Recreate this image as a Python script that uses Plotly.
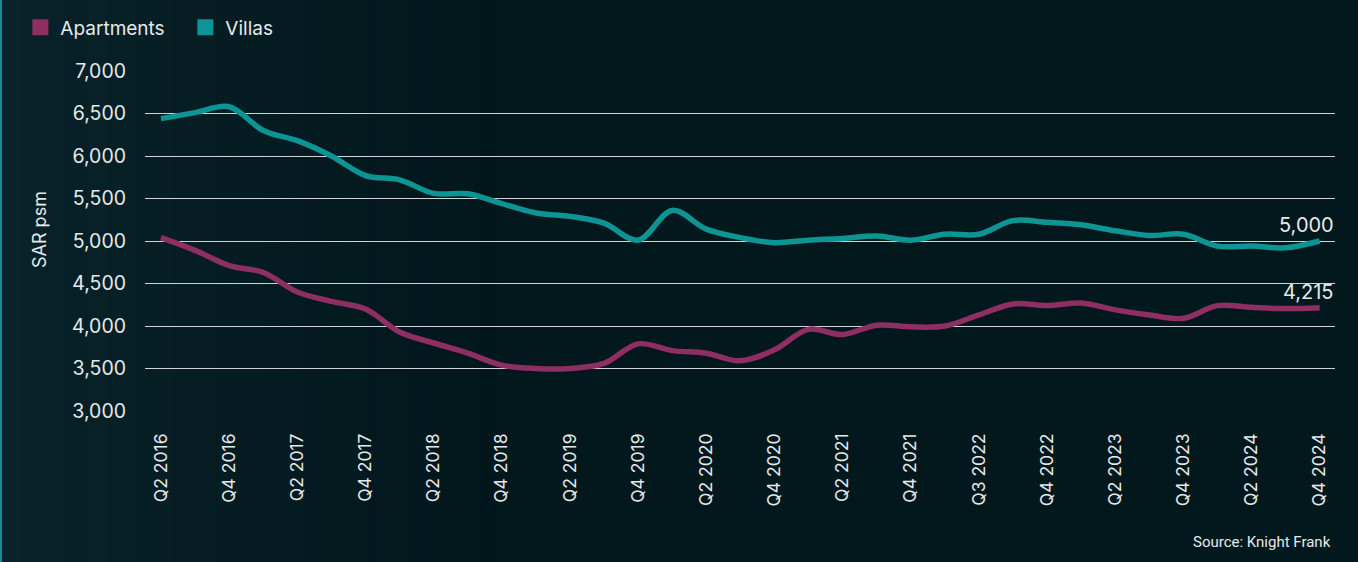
import plotly.graph_objects as go

# Quarterly average asking prices (SAR per sq m)
quarters = list(range(35))  # Q2 2016 ... Q4 2024
tick_positions = list(range(0, 35, 2))
tick_labels = ["Q2 2016", "Q4 2016", "Q2 2017", "Q4 2017", "Q2 2018", "Q4 2018",
               "Q2 2019", "Q4 2019", "Q2 2020", "Q4 2020", "Q2 2021", "Q4 2021",
               "Q3 2022", "Q4 2022", "Q2 2023", "Q4 2023", "Q2 2024", "Q4 2024"]

apartments = [5040, 4890, 4710, 4630, 4400, 4290, 4200, 3930, 3800, 3680,
              3540, 3500, 3500, 3560, 3790, 3710, 3680, 3590, 3720, 3960,
              3900, 4010, 3990, 4000, 4130, 4260, 4240, 4270, 4190, 4130,
              4090, 4240, 4220, 4205, 4215]

villas = [6440, 6510, 6580, 6300, 6180, 6000, 5770, 5720, 5560, 5555,
          5440, 5330, 5290, 5210, 5010, 5360, 5140, 5040, 4980, 5010,
          5030, 5060, 5010, 5080, 5080, 5240, 5220, 5190, 5120, 5065,
          5080, 4940, 4940, 4920, 5000]

APT_COLOR = "#8e2e62"
VILLA_COLOR = "#0d9494"
TEXT_COLOR = "#e6e9ea"
BG = "#03181d"
FONT = "Inter"

W, H = 1358, 562
L, R, T, B = 145, 23, 71, 151
PW, PH = W - L - R, H - T - B


def px_to_paper_x(px):
    return (px - L) / PW


def px_to_paper_y(py):
    return (H - B - py) / PH


fig = go.Figure()

for name, values, color in [("Apartments", apartments, APT_COLOR),
                            ("Villas", villas, VILLA_COLOR)]:
    fig.add_trace(go.Scatter(
        x=quarters, y=values, mode="lines", name=name,
        line=dict(color=color, width=5.5, shape="spline", smoothing=1.0),
        showlegend=False, hoverinfo="x+y",
    ))
    # square swatch for the legend
    fig.add_trace(go.Scatter(
        x=[None], y=[None], mode="markers", name=name,
        marker=dict(symbol="square", size=16, color=color),
        showlegend=True,
    ))

# end-of-series value labels
for values in (villas, apartments):
    fig.add_annotation(
        x=quarters[-1], y=values[-1], text=f"{values[-1]:,}",
        showarrow=False, xanchor="right", yanchor="bottom",
        xshift=16, yshift=2,
        font=dict(size=20, color=TEXT_COLOR, family=FONT),
    )

# y-axis title
fig.add_annotation(
    text="SAR psm", xref="paper", yref="paper",
    x=px_to_paper_x(39), y=px_to_paper_y(230), textangle=-90,
    xanchor="center", yanchor="middle", showarrow=False,
    font=dict(size=18, color=TEXT_COLOR, family=FONT),
)

fig.add_annotation(
    text="Source: Knight Frank", xref="paper", yref="paper",
    x=px_to_paper_x(1333), y=px_to_paper_y(542), xanchor="right",
    yanchor="middle", showarrow=False,
    font=dict(size=15, color=TEXT_COLOR, family="Roboto"),
)

# soft lighter haze on the left side of the panel
steps = 24
for i in range(steps):
    x0 = i * 520 / steps
    x1 = (i + 1) * 520 / steps
    alpha = 0.16 * (1 - i / steps) ** 1.5
    fig.add_shape(type="rect", xref="paper", yref="paper",
                  x0=px_to_paper_x(x0), x1=px_to_paper_x(x1),
                  y0=px_to_paper_y(H), y1=px_to_paper_y(0),
                  fillcolor=f"rgba(40,95,110,{alpha:.3f})",
                  line=dict(width=0), layer="below")

# thin accent line on the left edge of the panel
fig.add_shape(type="rect", xref="paper", yref="paper",
              x0=px_to_paper_x(0), x1=px_to_paper_x(2),
              y0=px_to_paper_y(H), y1=px_to_paper_y(0),
              fillcolor="#1a8a92", line=dict(width=0), layer="below")

fig.update_layout(
    width=W, height=H,
    margin=dict(l=L, r=R, t=T, b=B),
    paper_bgcolor=BG, plot_bgcolor="rgba(0,0,0,0)",
    font=dict(family=FONT, color=TEXT_COLOR),
    legend=dict(
        orientation="h", xref="container", yref="container",
        x=0.015, y=0.985, xanchor="left", yanchor="top",
        font=dict(size=19, color=TEXT_COLOR, family=FONT),
        bgcolor="rgba(0,0,0,0)", itemwidth=30, tracegroupgap=0,
        entrywidth=120, entrywidthmode="pixels",
    ),
    xaxis=dict(
        range=[-0.47, 34.45], tickmode="array",
        tickvals=tick_positions, ticktext=tick_labels,
        tickangle=-90, showgrid=False, zeroline=False, showline=False,
        ticks="", ticklabelstandoff=18,
        tickfont=dict(size=17.5, color=TEXT_COLOR, family=FONT),
    ),
    yaxis=dict(
        range=[3000, 7000], tickvals=list(range(3000, 7001, 500)),
        tickformat=",", showgrid=True, gridcolor="#cfd3d4", gridwidth=1,
        zeroline=False, showline=False, ticks="", ticklabelstandoff=18,
        tickfont=dict(size=19.5, color=TEXT_COLOR, family=FONT),
    ),
)

fig.write_html("out.html")
